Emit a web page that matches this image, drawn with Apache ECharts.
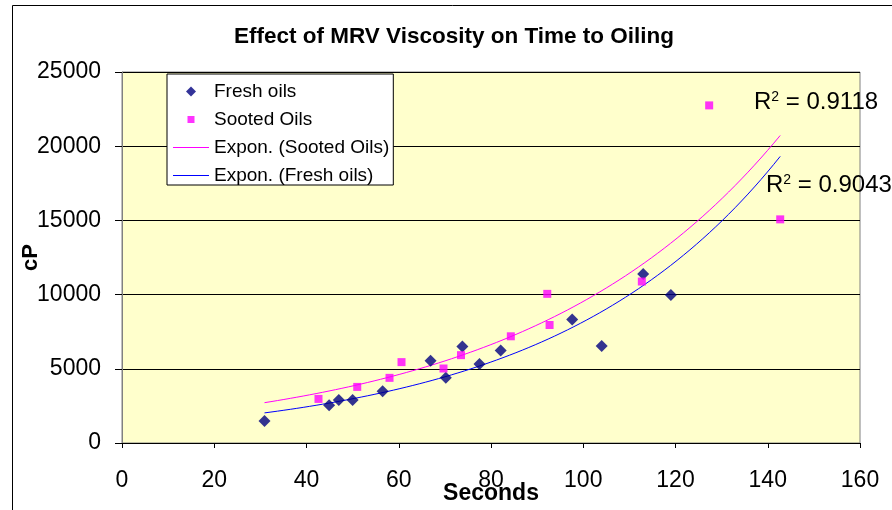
<!DOCTYPE html>
<html>
<head>
<meta charset="utf-8">
<script src="https://cdn.jsdelivr.net/npm/echarts@6/dist/echarts.min.js"></script>
<style>
  html, body { margin: 0; padding: 0; background: #fff; }
  #chart { width: 892px; height: 510px; }
</style>
</head>
<body>
<div id="chart"></div>
<script>
// values
var freshX = [30.9, 44.9, 47.0, 50.0, 56.5, 66.9, 70.2, 73.8, 77.5, 82.1, 97.6, 104.0, 113.0, 119.0];
var freshY = [1490, 2550, 2900, 2900, 3490, 5540, 4390, 6510, 5320, 6240, 8330, 6530, 11380, 9980];
var sootedX = [42.6, 51.0, 58.0, 60.6, 69.7, 73.5, 84.3, 92.2, 92.7, 112.7, 127.3, 142.7];
var sootedY = [2970, 3780, 4390, 5450, 5020, 5920, 7190, 10050, 7950, 10880, 22750, 15070];
var xTicks = [0, 20, 40, 60, 80, 100, 120, 140, 160];
var yTicks = [0, 5000, 10000, 15000, 20000, 25000];
var r2Sooted = "0.9118";
var r2Fresh = "0.9043";

function pairs(xs, ys) {
  return xs.map(function (x, i) { return [x, ys[i]]; });
}

// exponential trendline, least squares on ln(y) like excel does
function expFit(xs, ys, from, to) {
  var n = xs.length, mx = 0, my = 0;
  for (var i = 0; i < n; i++) { mx += xs[i]; my += Math.log(ys[i]); }
  mx /= n; my /= n;
  var sxy = 0, sxx = 0;
  for (var i = 0; i < n; i++) {
    sxy += (xs[i] - mx) * (Math.log(ys[i]) - my);
    sxx += (xs[i] - mx) * (xs[i] - mx);
  }
  var b = sxy / sxx, a = Math.exp(my - b * mx);
  var pts = [];
  for (var k = 0; k <= 80; k++) {
    var x = from + (to - from) * k / 80;
    pts.push([x, a * Math.exp(b * x)]);
  }
  return pts;
}

var allX = freshX.concat(sootedX);
var xFrom = Math.min.apply(null, allX);
var xTo = Math.max.apply(null, allX);

var myChart = echarts.init(document.getElementById("chart"));
var font = "Liberation Sans, Arial, sans-serif";
var supStyle = { fontSize: 14, verticalAlign: "top", padding: [0, 0, 10, 0], fontFamily: font };

myChart.setOption({
  animation: false,
  textStyle: { fontFamily: font },
  title: {
    text: "Effect of MRV Viscosity on Time to Oiling",
    left: 234,
    top: 25,
    padding: 0,
    textStyle: { fontSize: 22.5, fontWeight: "bold", color: "#000", fontFamily: font }
  },
  legend: {
    orient: "vertical",
    left: 167,
    top: 74,
    padding: [8, 4, 0, 6],
    itemGap: 9,
    itemWidth: 36,
    itemHeight: 10,
    backgroundColor: "#fff",
    borderColor: "#000",
    borderWidth: 1,
    borderRadius: 0,
    textStyle: { fontSize: 19, color: "#000", fontFamily: font },
    data: [
      { name: "Fresh oils", icon: "path://M5,0 L10,5 L5,10 L0,5Z" },
      { name: "Sooted Oils", icon: "path://M0,0 L0,0 M1.5,1.5 L8.5,1.5 L8.5,8.5 L1.5,8.5Z M10,10 L10,10" },
      { name: "Expon. (Sooted Oils)", icon: "path://M0,0 L36,0 L36,1 L0,1Z" },
      { name: "Expon. (Fresh oils)", icon: "path://M0,0 L36,0 L36,1 L0,1Z" }
    ]
  },
  grid: {
    left: 122,
    top: 72,
    right: 32,
    bottom: 67,
    containLabel: false,
    outerBoundsMode: "none",
    show: true,
    backgroundColor: "#FFFFCC",
    borderColor: "#808080",
    borderWidth: 1
  },
  xAxis: {
    type: "value",
    min: xTicks[0],
    max: xTicks[xTicks.length - 1],
    interval: 20,
    name: "Seconds",
    nameLocation: "middle",
    nameGap: 39,
    nameMoveOverlap: false,
    nameTextStyle: { fontSize: 23, fontWeight: "bold", color: "#000", fontFamily: font },
    axisLine: { lineStyle: { color: "#000", width: 1 } },
    axisTick: { show: true, length: 5, lineStyle: { color: "#000" } },
    axisLabel: { fontSize: 23, color: "#000", margin: 26, fontFamily: font },
    splitLine: { show: false }
  },
  yAxis: {
    type: "value",
    min: yTicks[0],
    max: yTicks[yTicks.length - 1],
    interval: 5000,
    name: "cP",
    nameLocation: "middle",
    nameGap: 80,
    nameMoveOverlap: false,
    nameTextStyle: { fontSize: 22, fontWeight: "bold", color: "#000", fontFamily: font },
    axisLine: { show: true, lineStyle: { color: "#808080", width: 1 } },
    axisTick: { show: true, length: 7, lineStyle: { color: "#000" } },
    axisLabel: {
      fontSize: 23, color: "#000", margin: 21, fontFamily: font,
      formatter: function (v) { return String(v); }
    },
    splitLine: { show: true, lineStyle: { color: "#000", width: 1 } }
  },
  series: [
    {
      name: "Fresh oils",
      type: "scatter",
      symbol: "diamond",
      symbolSize: 12,
      itemStyle: { color: "#000080" },
      z: 5,
      data: pairs(freshX, freshY)
    },
    {
      name: "Sooted Oils",
      type: "scatter",
      symbol: "rect",
      symbolSize: 8,
      itemStyle: { color: "#FF00FF" },
      z: 5,
      data: pairs(sootedX, sootedY)
    },
    {
      name: "Expon. (Sooted Oils)",
      type: "line",
      showSymbol: false,
      symbol: "none",
      itemStyle: { color: "#FF00FF" },
      lineStyle: { color: "#FF00FF", width: 1 },
      z: 3,
      data: expFit(sootedX, sootedY, xFrom, xTo)
    },
    {
      name: "Expon. (Fresh oils)",
      type: "line",
      showSymbol: false,
      symbol: "none",
      itemStyle: { color: "#0000FF" },
      lineStyle: { color: "#0000FF", width: 1 },
      z: 3,
      data: expFit(freshX, freshY, xFrom, xTo)
    }
  ],
  graphic: [
    // outer chart frame, cut off at right and bottom in the original
    {
      type: "rect",
      shape: { x: 12.5, y: 5.5, width: 1000, height: 1000 },
      style: { fill: "none", stroke: "#000", lineWidth: 1 },
      silent: true,
      z: -10
    },
    {
      type: "text",
      left: 754,
      top: 90,
      style: { text: "R{sup|2} = " + r2Sooted, fontSize: 24, fontFamily: font, fill: "#000", rich: { sup: supStyle } }
    },
    {
      type: "text",
      left: 766,
      top: 173,
      style: { text: "R{sup|2} = " + r2Fresh, fontSize: 24, fontFamily: font, fill: "#000", rich: { sup: supStyle } }
    }
  ]
});
</script>
</body>
</html>
